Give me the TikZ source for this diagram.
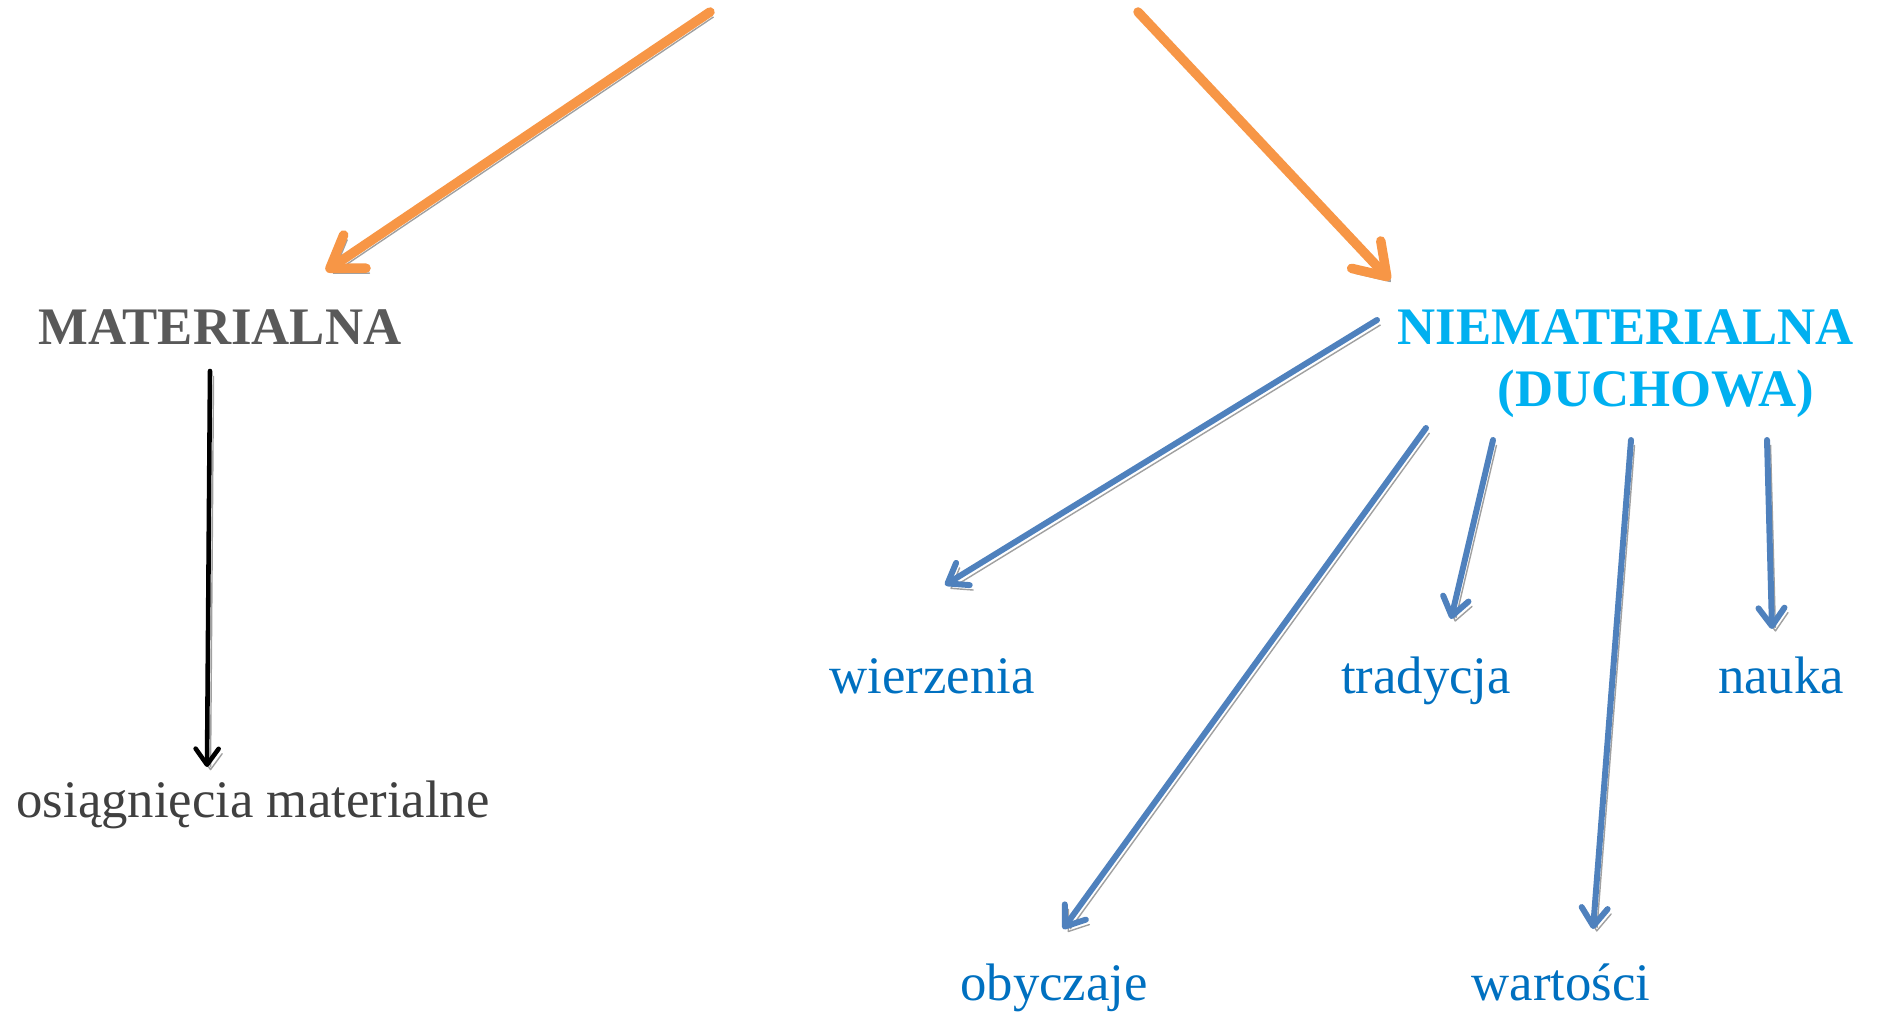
\documentclass[tikz,border=0pt]{standalone}
\usepackage{fontspec}
\setmainfont{Liberation Serif}
\usetikzlibrary{arrows.meta}
\definecolor{orangearr}{HTML}{F79646}
\definecolor{bluearr}{HTML}{4F81BD}
\definecolor{shadowgray}{HTML}{A0A0A0}
\definecolor{cyantxt}{HTML}{00B0F0}
\definecolor{bluetxt}{HTML}{0070C0}
\definecolor{greytxt}{HTML}{595959}
\definecolor{darktxt}{HTML}{404040}
\tikzset{
  shadowed/.style={preaction={draw=shadowgray, transform canvas={shift={(1pt,-1.4pt)}}}},
  orangearrow/.style={shadowed, draw=orangearr, line width=2.7pt, line cap=round,
    -{Straight Barb[length=3mm,width=4mm,round]}},
  bluearrow/.style={shadowed, draw=bluearr, line width=1.7pt, line cap=round,
    -{Straight Barb[length=1.8mm,width=2.6mm,round]}},
  blackarrow/.style={shadowed, draw=black, line width=1.3pt, line cap=round,
    -{Straight Barb[length=1.6mm,width=2.3mm,round]}},
  label/.style={inner sep=0pt, anchor=base, font=\fontsize{15}{18}\selectfont}
}
\begin{document}
\begin{tikzpicture}[x=0.01cm, y=-0.01cm]
  % Fixed bounding box (pixel grid of the reference)
  \path[use as bounding box] (0,0) rectangle (1879,1013);

  % Headings
  \node[label, text=greytxt, font=\fontsize{15}{18}\selectfont\bfseries] (mat) at (220,345) {MATERIALNA};
  \node[label, anchor=base west, text=cyantxt, font=\fontsize{15}{18}\selectfont\bfseries] (niemat) at (1397,345) {NIEMATERIALNA};
  \node[label, anchor=base west, text=cyantxt, font=\fontsize{15}{18}\selectfont\bfseries] (duch) at (1497,407) {(DUCHOWA)};

  % Leaves
  \node[label, text=darktxt] (osi) at (253,817) {osiągnięcia materialne};
  \node[label, text=bluetxt] (wier) at (932,693) {wierzenia};
  \node[label, text=bluetxt] (trad) at (1426,693) {tradycja};
  \node[label, text=bluetxt] (nauka) at (1781,693) {nauka};
  \node[label, text=bluetxt] (obycz) at (1054,1000) {obyczaje};
  \node[label, text=bluetxt] (wart) at (1561,1000) {wartości};

  % Arrow ends
  \coordinate (topl) at (710,12);
  \coordinate (topr) at (1138,12);
  \coordinate (matin) at (326,271);
  \coordinate (niemin) at (1390,280);
  \coordinate (matout) at (210,371);
  \coordinate (osiin) at (207,767);
  \coordinate (wierout) at (1377,320);
  \coordinate (wierin) at (945,585);
  \coordinate (obyczout) at (1426,428);
  \coordinate (obyczin) at (1063,929);
  \coordinate (tradout) at (1493,440);
  \coordinate (tradin) at (1451,619);
  \coordinate (wartout) at (1631,440);
  \coordinate (wartin) at (1593,929);
  \coordinate (naukaout) at (1767,440);
  \coordinate (naukain) at (1772,629);

  % Orange arrows from the top
  \draw[orangearrow] (topl) -- (matin);
  \draw[orangearrow] (topr) -- (niemin);

  % Material side
  \draw[blackarrow] (matout) -- (osiin);

  % Spiritual side
  \foreach \a/\b in {wierout/wierin, obyczout/obyczin, tradout/tradin, wartout/wartin, naukaout/naukain}
    \draw[bluearrow] (\a) -- (\b);
\end{tikzpicture}
\end{document}
